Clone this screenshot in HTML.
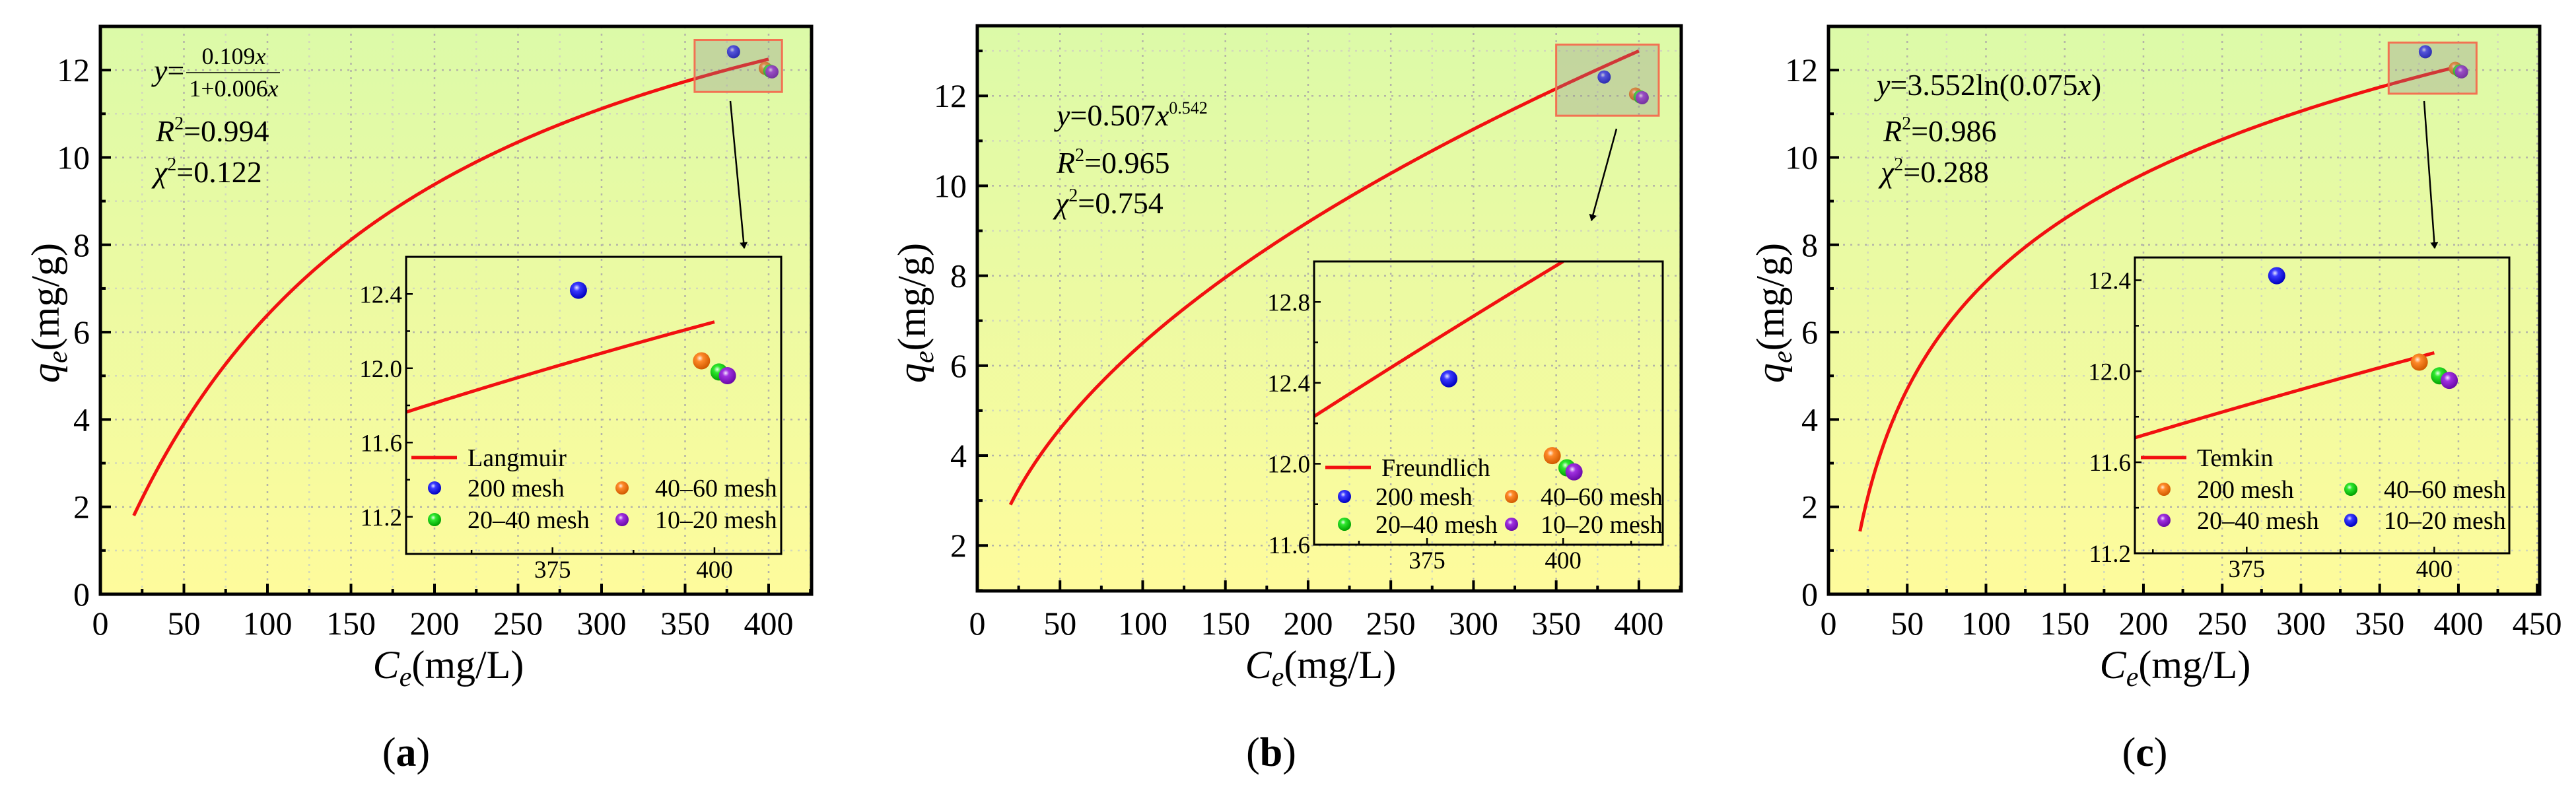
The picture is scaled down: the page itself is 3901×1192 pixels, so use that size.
<!DOCTYPE html>
<html><head><meta charset="utf-8"><style>
html,body{margin:0;padding:0;background:#fff;}
svg{display:block;font-family:"Liberation Serif","DejaVu Serif",serif;}
</style></head><body>
<svg id="fig" width="3901" height="1192" viewBox="0 0 3901 1192" xmlns="http://www.w3.org/2000/svg">
<defs>
<linearGradient id="bg" x1="0" y1="0" x2="0" y2="1"><stop offset="0" stop-color="#dcfaa8"/><stop offset="1" stop-color="#fefb9c"/></linearGradient>
<radialGradient id="g-blue" cx="0.4" cy="0.35" r="0.65"><stop offset="0" stop-color="#e8e8ff"/><stop offset="0.3" stop-color="#3a3aff"/><stop offset="1" stop-color="#0000c0"/></radialGradient>
<radialGradient id="g-orange" cx="0.4" cy="0.35" r="0.65"><stop offset="0" stop-color="#fff0e0"/><stop offset="0.3" stop-color="#ff8a2a"/><stop offset="1" stop-color="#d05a00"/></radialGradient>
<radialGradient id="g-green" cx="0.4" cy="0.35" r="0.65"><stop offset="0" stop-color="#e8ffe8"/><stop offset="0.3" stop-color="#2ee82e"/><stop offset="1" stop-color="#00a000"/></radialGradient>
<radialGradient id="g-purple" cx="0.4" cy="0.35" r="0.65"><stop offset="0" stop-color="#f6e8ff"/><stop offset="0.3" stop-color="#a030e0"/><stop offset="1" stop-color="#6a0aa8"/></radialGradient>
<marker id="arrow" markerWidth="10" markerHeight="12" refX="9" refY="6" orient="auto" markerUnits="userSpaceOnUse"><path d="M0,0 L10,6 L0,12 Z" fill="#000"/></marker>
</defs>
</svg>
<script>
// ---- data ----
const meshX = [379, 398, 400.7, 402];
const meshY = [12.42, 12.04, 11.98, 11.96];
const meshColorsAB = ['blue', 'orange', 'green', 'purple'];
const meshLabelsAB = ['200 mesh', '40–60 mesh', '20–40 mesh', '10–20 mesh'];
const meshColorsC = ['blue', 'orange', 'green', 'purple'];
const meshLabelsC = ['10–20 mesh', '200 mesh', '40–60 mesh', '20–40 mesh'];
const langmuirParams = [0.1002, 0.00568];
const freundlichParams = [0.65, 0.5];
const temkinParams = [3.552, 0.075];
const curveDomain = [20, 400];
const xTicksAB = [0, 50, 100, 150, 200, 250, 300, 350, 400];
const xTicksC = [0, 50, 100, 150, 200, 250, 300, 350, 400, 450];
const yTicksAC = [0, 2, 4, 6, 8, 10, 12];
const yTicksB = [2, 4, 6, 8, 10, 12];
const insetXTicks = [375, 400];
const insetYTicksA = [11.2, 11.6, 12.0, 12.4];
const insetYTicksB = [11.6, 12.0, 12.4, 12.8];
const insetYTicksC = [11.2, 11.6, 12.0, 12.4];
const zoomBoxA = [355.7, 408, 11.5, 12.69];
const zoomBoxB = [350, 412, 11.56, 13.14];
const zoomBoxC = [355.7, 411.5, 11.46, 12.63];
const legendOrderAB = [0, 1, 2, 3];
const legendOrderC = [1, 2, 3, 0];

const NS = 'http://www.w3.org/2000/svg';
const svg = document.getElementById('fig');
function el(tag, attrs, parent) {
  const e = document.createElementNS(NS, tag);
  for (const k in attrs) e.setAttribute(k, attrs[k]);
  (parent || svg).appendChild(e);
  return e;
}
function lin(d0, d1, r0, r1) { return v => r0 + (v - d0) * (r1 - r0) / (d1 - d0); }

const fits = {
  langmuir: x => langmuirParams[0] * x / (1 + langmuirParams[1] * x),
  freundlich: x => freundlichParams[0] * Math.pow(x, freundlichParams[1]),
  temkin: x => temkinParams[0] * Math.log(temkinParams[1] * x)
};

const panels = [
  { id: 'a', fit: 'langmuir', legendName: 'Langmuir', L: 152, R: 1229, T: 40, B: 900, xd: [0, 425.7], yd: [0, 13.0],
    xTicks: xTicksAB, yTicks: yTicksAC, yMinor: 1, box: zoomBoxA,
    inset: { L: 615, R: 1183, T: 389, B: 839, xd: [352.4, 410.3], yd: [11.0, 12.6], yTicks: insetYTicksA },
    arrow: [1106, 153, 1127, 376],
    legend: { lx: 623, ly: 693, rows: [739, 787], mx: [658, 942], tx: [708, 992] },
    colors: meshColorsAB, labels: meshLabelsAB, order: legendOrderAB,
    xTitle: 679, yTitleX: 89, caption: 615 },
  { id: 'b', fit: 'freundlich', legendName: 'Freundlich', L: 1480, R: 2546, T: 39, B: 895, xd: [0, 425.6], yd: [0.99, 13.56],
    xTicks: xTicksAB, yTicks: yTicksB, yMinor: 1, box: zoomBoxB,
    inset: { L: 1990, R: 2518, T: 396, B: 825, xd: [354.25, 418.3], yd: [11.6, 13.0], yTicks: insetYTicksB },
    arrow: [2448, 195, 2410, 334],
    legend: { lx: 2007, ly: 708, rows: [752, 794], mx: [2036, 2289], tx: [2083, 2333] },
    colors: meshColorsAB, labels: meshLabelsAB, order: legendOrderAB,
    xTitle: 2000, yTitleX: 1401, caption: 1925 },
  { id: 'c', fit: 'temkin', legendName: 'Temkin', L: 2769, R: 3846, T: 40, B: 900, xd: [0, 451.6], yd: [0, 13.0],
    xTicks: xTicksC, yTicks: yTicksAC, yMinor: 1, box: zoomBoxC,
    inset: { L: 3233, R: 3800, T: 390, B: 838, xd: [360.1, 410], yd: [11.2, 12.5], yTicks: insetYTicksC },
    arrow: [3671, 153, 3687, 376],
    legend: { lx: 3242, ly: 693, rows: [741, 788], mx: [3277, 3560], tx: [3327, 3610] },
    colors: meshColorsC, labels: meshLabelsC, order: legendOrderC,
    xTitle: 3294, yTitleX: 2701, caption: 3248 }
];

function curvePath(f, sx, sy, x0, x1) {
  let d = '';
  const n = 200;
  for (let i = 0; i <= n; i++) {
    const x = x0 + (x1 - x0) * i / n;
    d += (i ? 'L' : 'M') + sx(x).toFixed(2) + ',' + sy(f(x)).toFixed(2);
  }
  return d;
}
function ball(g, cx, cy, r, color, name) {
  const c = el('circle', { cx: cx, cy: cy, r: r, fill: 'url(#g-' + color + ')' }, g);
  
  
  return c;
}

panels.forEach(p => {
  const g = el('g', {});
  
  
  const sx = lin(p.xd[0], p.xd[1], p.L, p.R);
  const sy = lin(p.yd[0], p.yd[1], p.B, p.T);
  const f = fits[p.fit];

  const bg = el('rect', { x: p.L, y: p.T, width: p.R - p.L, height: p.B - p.T, fill: 'url(#bg)' }, g);
  
  

  const grid = el('g', { fill: 'none' }, g);
  
  
  for (let v = 25; v < p.xd[1]; v += 25) {
    const major = v % 50 === 0;
    el('line', { x1: sx(v), x2: sx(v), y1: p.T, y2: p.B, stroke: major ? '#b4b4a8' : '#d2d8bc', 'stroke-width': 2.5, 'stroke-dasharray': '3 8' }, grid);
  }
  for (let v = Math.ceil(p.yd[0]); v < p.yd[1]; v += p.yMinor) {
    if (v <= p.yd[0]) continue;
    const major = v % 2 === 0;
    el('line', { x1: p.L, x2: p.R, y1: sy(v), y2: sy(v), stroke: major ? '#b4b4a8' : '#d2d8bc', 'stroke-width': 2.5, 'stroke-dasharray': '3 8' }, grid);
  }

  const cv = el('path', { d: curvePath(f, sx, sy, curveDomain[0], curveDomain[1]), fill: 'none', stroke: '#f21010', 'stroke-width': 5, 'stroke-linejoin': 'round' }, g);
  
  

  for (let i = 0; i < meshX.length; i++) {
    ball(g, sx(meshX[i]), sy(meshY[i]), 10, p.colors[i], 'point-' + p.labels[i].replace(/[^0-9a-z]+/g, '-'));
  }
  const bx = el('rect', { x: sx(p.box[0]), y: sy(p.box[3]), width: sx(p.box[1]) - sx(p.box[0]), height: sy(p.box[2]) - sy(p.box[3]), fill: 'rgba(140,140,140,0.32)', stroke: '#f27252', 'stroke-width': 3 }, g);
  
  
  const ar = el('line', { x1: p.arrow[0], y1: p.arrow[1], x2: p.arrow[2], y2: p.arrow[3], stroke: '#000', 'stroke-width': 2.5, 'marker-end': 'url(#arrow)' }, g);
  
  

  const fr = el('rect', { x: p.L, y: p.T, width: p.R - p.L, height: p.B - p.T, fill: 'none', stroke: '#000', 'stroke-width': 5 }, g);
  
  

  const xa = el('g', {}, g);
  
  
  for (let v = 25; v < p.xd[1]; v += 25) {
    const major = v % 50 === 0;
    el('line', { x1: sx(v), x2: sx(v), y1: p.B, y2: p.B - (major ? 16 : 8), stroke: '#000', 'stroke-width': 4 }, xa);
  }
  p.xTicks.forEach(v => {
    const t = el('text', { x: sx(v), y: 961, 'font-size': 50, 'text-anchor': 'middle', fill: '#000' }, xa);
    t.textContent = v;
    
    
  });
  const ya = el('g', {}, g);
  
  
  for (let v = Math.ceil(p.yd[0]); v < p.yd[1]; v += p.yMinor) {
    if (v <= p.yd[0]) continue;
    const major = v % 2 === 0;
    el('line', { x1: p.L, x2: p.L + (major ? 16 : 8), y1: sy(v), y2: sy(v), stroke: '#000', 'stroke-width': 4 }, ya);
  }
  p.yTicks.forEach(v => {
    const t = el('text', { x: p.L - 16, y: sy(v) + 17, 'font-size': 50, 'text-anchor': 'end', fill: '#000' }, ya);
    t.textContent = v;
    
    
  });

  const xt = el('text', { x: p.xTitle, y: 1027, 'font-size': 60, 'text-anchor': 'middle' }, g);
  xt.innerHTML = '<tspan font-style="italic">C</tspan><tspan font-style="italic" font-size="42" dy="12">e</tspan><tspan dy="-12">(mg/L)</tspan>';
  
  
  const yt = el('text', { x: 0, y: 0, 'font-size': 60, 'text-anchor': 'middle', transform: 'translate(' + p.yTitleX + ',474) rotate(-90)' }, g);
  yt.innerHTML = '<tspan font-style="italic">q</tspan><tspan font-style="italic" font-size="42" dy="12">e</tspan><tspan dy="-12">(mg/g)</tspan>';
  
  

  const cap = el('text', { x: p.caption, y: 1160, 'font-size': 62, 'text-anchor': 'middle' }, g);
  cap.innerHTML = '(<tspan font-weight="bold">' + p.id + '</tspan>)';
  
  

  const I = p.inset;
  const ig = el('g', {}, g);
  
  
  const isx = lin(I.xd[0], I.xd[1], I.L, I.R);
  const isy = lin(I.yd[0], I.yd[1], I.B, I.T);
  const clipId = 'clip-' + p.id;
  const cp = el('clipPath', { id: clipId }, ig);
  el('rect', { x: I.L, y: I.T, width: I.R - I.L, height: I.B - I.T }, cp);
  const icv = el('path', { d: curvePath(f, isx, isy, Math.max(curveDomain[0], I.xd[0]), curveDomain[1]), fill: 'none', stroke: '#f21010', 'stroke-width': 5, 'clip-path': 'url(#' + clipId + ')' }, ig);
  
  
  for (let i = 0; i < meshX.length; i++) {
    ball(ig, isx(meshX[i]), isy(meshY[i]), 13, p.colors[i], 'inset-point');
  }
  const ifr = el('rect', { x: I.L, y: I.T, width: I.R - I.L, height: I.B - I.T, fill: 'none', stroke: '#000', 'stroke-width': 3 }, ig);
  
  
  for (let v = Math.ceil(I.xd[0] / 12.5) * 12.5; v < I.xd[1]; v += 12.5) {
    const major = v % 25 === 0;
    el('line', { x1: isx(v), x2: isx(v), y1: I.B, y2: I.B - (major ? 10 : 6), stroke: '#000', 'stroke-width': 2.5 }, ig);
  }
  insetXTicks.forEach(v => {
    const t = el('text', { x: isx(v), y: I.B + 36, 'font-size': 37, 'text-anchor': 'middle' }, ig);
    t.textContent = v;
    
    
  });
  for (let k = Math.ceil(I.yd[0] / 0.2); k * 0.2 < I.yd[1]; k++) {
    const v = k * 0.2;
    if (v <= I.yd[0] + 1e-6) continue;
    const major = k % 2 === 0;
    el('line', { x1: I.L, x2: I.L + (major ? 10 : 6), y1: isy(v), y2: isy(v), stroke: '#000', 'stroke-width': 2.5 }, ig);
  }
  I.yTicks.forEach(v => {
    const t = el('text', { x: I.L - 6, y: isy(v) + 13, 'font-size': 37, 'text-anchor': 'end' }, ig);
    t.textContent = v.toFixed(1);
    
    
  });

  const lg = el('g', {}, ig);
  
  
  const LG = p.legend;
  el('line', { x1: LG.lx, x2: LG.lx + 69, y1: LG.ly, y2: LG.ly, stroke: '#f21010', 'stroke-width': 5 }, lg);
  const lt = el('text', { x: LG.lx + 85, y: LG.ly + 13, 'font-size': 38 }, lg);
  lt.textContent = p.legendName;
  
  
  p.order.forEach((idx, j) => {
    const row = Math.floor(j / 2), col = j % 2;
    ball(lg, LG.mx[col], LG.rows[row], 10, p.colors[idx], 'legend-marker');
    const t = el('text', { x: LG.tx[col], y: LG.rows[row] + 13, 'font-size': 38 }, lg);
    t.textContent = p.labels[idx];
    
    
  });
});

function eqText(x, y, html, name, size) {
  const t = el('text', { x: x, y: y, 'font-size': size || 46 });
  t.innerHTML = html;
  
  
  return t;
}
eqText(233, 122, '<tspan font-style="italic">y</tspan>=', 'langmuir-equation-lhs');
eqText(354, 97, '0.109<tspan font-style="italic">x</tspan>', 'langmuir-numerator', 36).setAttribute('text-anchor', 'middle');
eqText(354, 146, '1+0.006<tspan font-style="italic">x</tspan>', 'langmuir-denominator', 36).setAttribute('text-anchor', 'middle');
el('line', { x1: 282, x2: 424, y1: 110, y2: 110, stroke: '#000', 'stroke-width': 1.5 });
eqText(236, 214, '<tspan font-style="italic">R</tspan><tspan font-size="28" dy="-18">2</tspan><tspan dy="18">=0.994</tspan>', 'langmuir-r2');
eqText(233, 276, '<tspan font-style="italic">χ</tspan><tspan font-size="28" dy="-18">2</tspan><tspan dy="18">=0.122</tspan>', 'langmuir-chi2');

eqText(1600, 190, '<tspan font-style="italic">y</tspan>=0.507<tspan font-style="italic">x</tspan><tspan font-size="26" dy="-18">0.542</tspan>', 'freundlich-equation');
eqText(1600, 262, '<tspan font-style="italic">R</tspan><tspan font-size="28" dy="-18">2</tspan><tspan dy="18">=0.965</tspan>', 'freundlich-r2');
eqText(1598, 323, '<tspan font-style="italic">χ</tspan><tspan font-size="28" dy="-18">2</tspan><tspan dy="18">=0.754</tspan>', 'freundlich-chi2');

eqText(2842, 144, '<tspan font-style="italic">y</tspan>=3.552ln(0.075<tspan font-style="italic">x</tspan>)', 'temkin-equation');
eqText(2852, 214, '<tspan font-style="italic">R</tspan><tspan font-size="28" dy="-18">2</tspan><tspan dy="18">=0.986</tspan>', 'temkin-r2');
eqText(2848, 276, '<tspan font-style="italic">χ</tspan><tspan font-size="28" dy="-18">2</tspan><tspan dy="18">=0.288</tspan>', 'temkin-chi2');
</script>
</body></html>
